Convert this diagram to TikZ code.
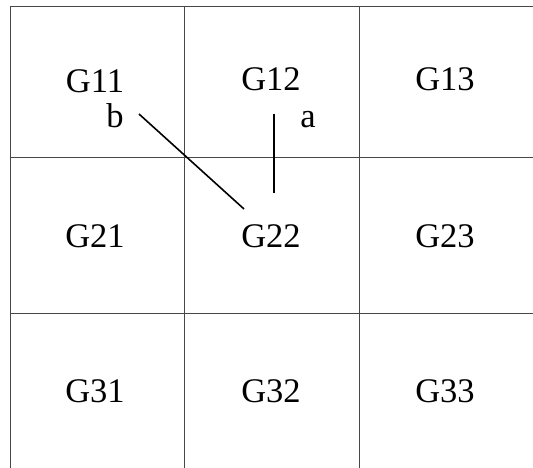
\documentclass[tikz,border=0pt]{standalone}
\usepackage{fontspec}
\setmainfont{Liberation Serif}
\begin{document}
\begin{tikzpicture}[x=1pt,y=-1pt,
  gridline/.style={draw=black!72,line width=1pt},
  conn/.style={draw=black,line width=1.6pt},
  lab/.style={font=\fontsize{34.5}{40}\selectfont,inner sep=0pt,anchor=base}]
\useasboundingbox (0,0) rectangle (533,468);
% grid
\draw[gridline] (10,468) -- (10,7) -- (533,7);
\draw[gridline] (184,7) -- (184,468);
\draw[gridline] (359,7) -- (359,468);
\draw[gridline] (10,158) -- (533,158);
\draw[gridline] (10,313) -- (533,313);
% labels
\node[lab] (g11) at (95,93) {G11};
\node[lab] (g12) at (271,91) {G12};
\node[lab] (g13) at (445,91) {G13};
\node[lab] (b) at (115,128) {b};
\node[lab] (a) at (308,128) {a};
\node[lab] (g21) at (95,247) {G21};
\node[lab] (g22) at (271,247) {G22};
\node[lab] (g23) at (445,247) {G23};
\node[lab] (g31) at (95,402) {G31};
\node[lab] (g32) at (271,402) {G32};
\node[lab] (g33) at (445,402) {G33};
% connectors
\coordinate (bs) at (139,114);
\coordinate (be) at (244,209);
\coordinate (as) at (274,114);
\coordinate (ae) at (274,193);
\draw[conn] (bs) -- (be);
\draw[conn] (as) -- (ae);
\end{tikzpicture}
\end{document}
